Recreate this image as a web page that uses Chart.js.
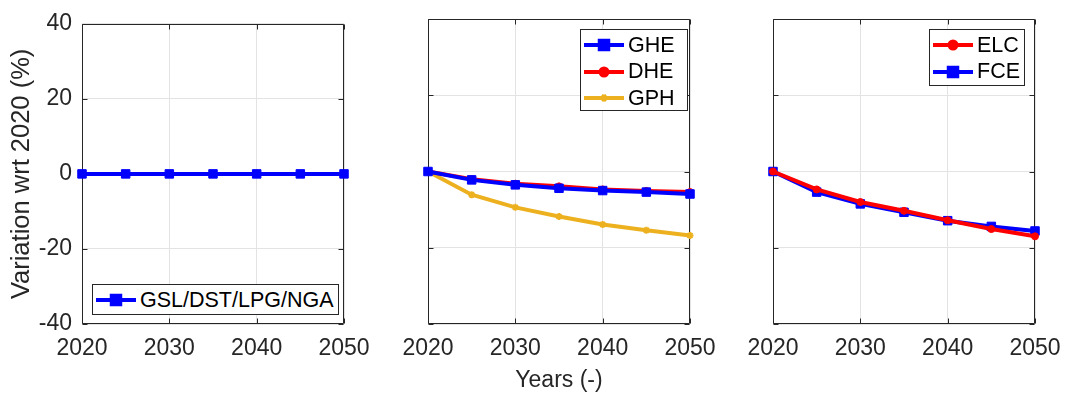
<!DOCTYPE html>
<html>
<head>
<meta charset="utf-8">
<script src="https://cdn.jsdelivr.net/npm/chart.js@4/dist/chart.umd.min.js"></script>
<style>
  html, body { margin: 0; padding: 0; background: #fff; }
  #wrap { position: relative; width: 1065px; height: 394px; overflow: hidden; }
  #wrap canvas.plot { position: absolute; top: 0; }
  .legend { position: absolute; background: #fff; border: 1px solid #262626; box-sizing: border-box;
            font-family: "Liberation Sans", Arial, sans-serif; font-size: 21.5px; color: #000; padding: 2px 6px 2px 3px; }
  .legend .row { display: flex; align-items: center; height: 26.5px; white-space: nowrap; }
  .legend .row canvas { margin-right: 4px; }
</style>
</head>
<body>
<div id="wrap">
  <canvas id="c1" class="plot" width="384" height="394" style="left:0px"></canvas>
  <canvas id="c2" class="plot" width="360" height="394" style="left:370px"></canvas>
  <canvas id="c3" class="plot" width="358" height="394" style="left:717px"></canvas>
</div>
<script>
// données (variation par rapport à 2020, en %)
const years = [2020, 2025, 2030, 2035, 2040, 2045, 2050];
const fossil = [0, 0, 0, 0, 0, 0, 0];           // GSL/DST/LPG/NGA
const ghe = [0, -2.2, -3.5, -4.4, -5.0, -5.4, -5.9];
const dhe = [0, -2.0, -3.2, -3.9, -4.7, -5.1, -5.4];
const gph = [0, -6.1, -9.4, -11.8, -13.9, -15.4, -16.8];
const elc = [0, -4.7, -8.0, -10.3, -12.8, -15.1, -17.0];
const fce = [0, -5.4, -8.5, -10.7, -12.9, -14.4, -15.6];
const yTicks = [-40, -20, 0, 20, 40];
const xTicks = [2020, 2030, 2040, 2050];

const FONT = '"Liberation Sans", Arial, sans-serif';
const TXT = '#262626';
const BLUE = '#0000ff', RED = '#ff0000', YEL = '#EDB120';

// styles des séries
const styles = {
  blue:   { color: BLUE, pointStyle: 'rect',   pointRadius: 6,   pointBorderWidth: 1 },
  red:    { color: RED,  pointStyle: 'circle', pointRadius: 3.5, pointBorderWidth: 1 },
  yellow: { color: YEL,  pointStyle: 'star',   pointRadius: 3.5, pointBorderWidth: 2 }
};

function dataset(label, values, st) {
  const s = styles[st];
  return {
    label: label,
    data: years.map((yr, i) => ({ x: yr, y: values[i] })),
    borderColor: s.color,
    backgroundColor: s.color,
    borderWidth: 4,
    pointStyle: s.pointStyle,
    pointRadius: s.pointRadius,
    pointBorderWidth: s.pointBorderWidth,
    pointBackgroundColor: s.color,
    pointBorderColor: s.color,
    tension: 0,
    clip: false
  };
}

// cadre + graduations intérieures façon MATLAB
const boxPlugin = {
  id: 'matlabBox',
  beforeDatasetsDraw(chart) {
    const { ctx, chartArea: a, scales: { x, y } } = chart;
    const L = Math.round(a.left) + 0.5, R = Math.round(a.right) - 0.5;
    const T = Math.round(a.top) + 0.5, B = Math.round(a.bottom) - 0.5;
    ctx.save();
    ctx.strokeStyle = TXT;
    ctx.lineWidth = 1;
    ctx.beginPath();
    ctx.rect(L, T, R - L, B - T);
    xTicks.forEach(v => {
      const px = Math.round(x.getPixelForValue(v)) + 0.5;
      ctx.moveTo(px, B); ctx.lineTo(px, B - 5);
      ctx.moveTo(px, T); ctx.lineTo(px, T + 5);
    });
    yTicks.forEach(v => {
      const py = Math.round(y.getPixelForValue(v)) + 0.5;
      ctx.moveTo(L, py); ctx.lineTo(L + 5, py);
      ctx.moveTo(R, py); ctx.lineTo(R - 5, py);
    });
    ctx.stroke();
    ctx.restore();
  }
};

function options(yWidth, padRight, showYLabels, yTitle, xTitle) {
  return {
    responsive: false,
    animation: false,
    layout: { padding: { top: 19, right: padRight, left: 0, bottom: 0 } },
    plugins: { legend: { display: false }, tooltip: { enabled: false } },
    scales: {
      x: {
        type: 'linear', min: 2020, max: 2050,
        afterBuildTicks: s => { s.ticks = xTicks.map(v => ({ value: v })); },
        afterFit: s => { s.height = 70; },
        grid: { color: '#e3e3e3', drawTicks: false },
        border: { display: false },
        ticks: { color: TXT, padding: 11, font: { family: FONT, size: 23 }, maxRotation: 0,
                 callback: v => String(v) },
        title: { display: !!xTitle, text: xTitle || '', color: TXT,
                 font: { family: FONT, size: 23 }, padding: { top: 0, bottom: 0 } }
      },
      y: {
        min: -40, max: 40,
        afterBuildTicks: s => { s.ticks = yTicks.map(v => ({ value: v })); },
        afterFit: s => { s.width = yWidth; },
        grid: { color: '#e3e3e3', drawTicks: false },
        border: { display: false },
        ticks: { display: showYLabels, color: TXT, padding: 10, font: { family: FONT, size: 23 } },
        title: { display: !!yTitle, text: yTitle || '', color: TXT,
                 font: { family: FONT, size: 25.5 }, padding: { top: 7, bottom: 0 } }
      }
    }
  };
}

new Chart(document.getElementById('c1'), {
  type: 'line',
  data: { datasets: [dataset('GSL/DST/LPG/NGA', fossil, 'blue')] },
  options: options(82, 40, true, 'Variation wrt 2020 (%)', null),
  plugins: [boxPlugin]
});

new Chart(document.getElementById('c2'), {
  type: 'line',
  data: { datasets: [
    dataset('GHE', ghe, 'blue'),
    dataset('DHE', dhe, 'red'),
    dataset('GPH', gph, 'yellow')
  ] },
  options: options(58, 40, false, null, 'Years (-)'),
  plugins: [boxPlugin]
});

new Chart(document.getElementById('c3'), {
  type: 'line',
  data: { datasets: [
    dataset('ELC', elc, 'red'),
    dataset('FCE', fce, 'blue')
  ] },
  options: options(56, 40, false, null, null),
  plugins: [boxPlugin]
});

// légendes en HTML
function legend(entries, left, top, width, height) {
  const box = document.createElement('div');
  box.className = 'legend';
  box.style.left = left + 'px';
  box.style.top = top + 'px';
  box.style.width = width + 'px';
  box.style.height = height + 'px';
  entries.forEach(([label, st]) => {
    const s = styles[st];
    const row = document.createElement('div');
    row.className = 'row';
    const cv = document.createElement('canvas');
    cv.width = 40; cv.height = 20;
    const ctx = cv.getContext('2d');
    ctx.strokeStyle = s.color; ctx.lineWidth = 4;
    ctx.beginPath(); ctx.moveTo(0, 10); ctx.lineTo(40, 10); ctx.stroke();
    ctx.fillStyle = s.color; ctx.strokeStyle = s.color;
    Chart.helpers.drawPoint(ctx, { pointStyle: s.pointStyle, radius: s.pointRadius,
      borderWidth: s.pointBorderWidth, rotation: 0 }, 20, 10);
    row.appendChild(cv);
    const t = document.createElement('span');
    t.textContent = label;
    row.appendChild(t);
    box.appendChild(row);
  });
  document.getElementById('wrap').appendChild(box);
}

legend([['GSL/DST/LPG/NGA', 'blue']], 92, 284, 247, 31);
legend([['GHE', 'blue'], ['DHE', 'red'], ['GPH', 'yellow']], 580, 29, 108, 82);
legend([['ELC', 'red'], ['FCE', 'blue']], 929, 29, 96, 57);
</script>
</body>
</html>
